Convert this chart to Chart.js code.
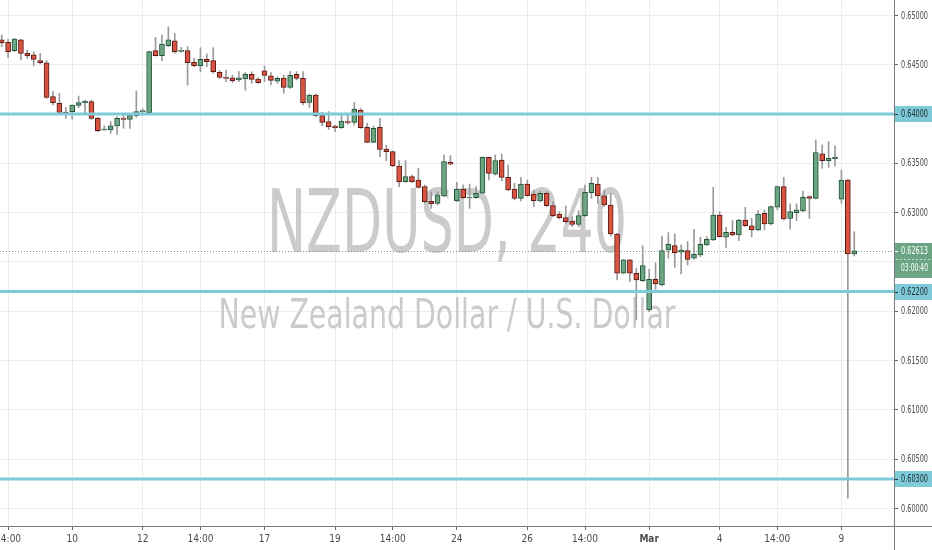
<!DOCTYPE html>
<html>
<head>
<meta charset="utf-8">
<script src="https://cdn.jsdelivr.net/npm/chart.js@4/dist/chart.umd.min.js"></script>
<style>
  html, body { margin: 0; padding: 0; background: #fff; }
  #wrap { width: 932px; height: 550px; }
</style>
</head>
<body>
<div id="wrap"><canvas id="priceChart" width="932" height="550"></canvas></div>
<script>
// NZDUSD 4h candles
const opens = [
  0.64752, 0.64728, 0.64643, 0.64752, 0.64616, 0.64600, 0.64542, 0.64521, 0.64177, 0.64109,
  0.64021, 0.64025, 0.64089, 0.64116, 0.64126, 0.63957, 0.63839, 0.63839, 0.63880, 0.63960,
  0.63947, 0.63984, 0.64025, 0.64015, 0.64643, 0.64592, 0.64694, 0.64744, 0.64636, 0.64643,
  0.64525, 0.64491, 0.64555, 0.64542, 0.64424, 0.64373, 0.64369, 0.64346, 0.64356, 0.64403,
  0.64356, 0.64440, 0.64389, 0.64335, 0.64366, 0.64271, 0.64403, 0.64363, 0.64119, 0.64194,
  0.63984, 0.63923, 0.63879, 0.63862, 0.63923, 0.63916, 0.64041, 0.63866, 0.63714, 0.63866,
  0.63646, 0.63619, 0.63474, 0.63315, 0.63366, 0.63332, 0.63264, 0.63115, 0.63095, 0.63170,
  0.63511, 0.63119, 0.63237, 0.63149, 0.63153, 0.63197, 0.63561, 0.63392, 0.63534, 0.63359,
  0.63240, 0.63146, 0.63291, 0.63190, 0.63119, 0.63197, 0.63071, 0.62987, 0.62950, 0.62916,
  0.62882, 0.62970, 0.63203, 0.63291, 0.63170, 0.63078, 0.62784, 0.62386, 0.62521, 0.62386,
  0.62311, 0.62014, 0.62325, 0.62267, 0.62622, 0.62666, 0.62599, 0.62615, 0.62538, 0.62572,
  0.62673, 0.62724, 0.62977, 0.62751, 0.62801, 0.62774, 0.62926, 0.62866, 0.62825, 0.62994,
  0.62886, 0.63055, 0.63264, 0.62943, 0.63001, 0.63018, 0.63163, 0.63146, 0.63596, 0.63528,
  0.63548, 0.63136, 0.63332, 0.62582
];
const highs = [
  0.64802, 0.64758, 0.64768, 0.64758, 0.64650, 0.64633, 0.64616, 0.64542, 0.64228, 0.64211,
  0.64068, 0.64092, 0.64183, 0.64143, 0.64143, 0.63967, 0.63880, 0.63923, 0.63974, 0.63991,
  0.64008, 0.64234, 0.64055, 0.64640, 0.64778, 0.64802, 0.64886, 0.64819, 0.64677, 0.64684,
  0.64565, 0.64673, 0.64610, 0.64673, 0.64440, 0.64447, 0.64396, 0.64430, 0.64424, 0.64430,
  0.64369, 0.64488, 0.64420, 0.64380, 0.64396, 0.64430, 0.64430, 0.64430, 0.64204, 0.64204,
  0.64018, 0.64025, 0.63889, 0.64008, 0.64008, 0.64119, 0.64058, 0.63906, 0.63879, 0.63957,
  0.63686, 0.63625, 0.63528, 0.63528, 0.63382, 0.63450, 0.63281, 0.63213, 0.63213, 0.63585,
  0.63578, 0.63308, 0.63281, 0.63291, 0.63264, 0.63565, 0.63565, 0.63585, 0.63595, 0.63484,
  0.63298, 0.63359, 0.63332, 0.63223, 0.63223, 0.63213, 0.63112, 0.63011, 0.63068, 0.62960,
  0.63021, 0.63281, 0.63359, 0.63359, 0.63231, 0.63197, 0.62791, 0.62525, 0.62525, 0.62436,
  0.62663, 0.62426, 0.62494, 0.62764, 0.62798, 0.62784, 0.62673, 0.62707, 0.62832, 0.62751,
  0.62757, 0.63258, 0.63011, 0.62852, 0.62920, 0.62933, 0.63055, 0.62943, 0.63021, 0.63028,
  0.63068, 0.63271, 0.63359, 0.63089, 0.63089, 0.63220, 0.63170, 0.63738, 0.63687, 0.63721,
  0.63677, 0.63433, 0.63340, 0.62808
];
const lows = [
  0.64684, 0.64576, 0.64633, 0.64549, 0.64566, 0.64488, 0.64508, 0.64160, 0.64092, 0.64008,
  0.63957, 0.63947, 0.64065, 0.64008, 0.63947, 0.63822, 0.63832, 0.63805, 0.63795, 0.63856,
  0.63856, 0.63967, 0.63991, 0.64008, 0.64589, 0.64542, 0.64684, 0.64616, 0.64626, 0.64295,
  0.64480, 0.64430, 0.64480, 0.64413, 0.64363, 0.64329, 0.64319, 0.64329, 0.64244, 0.64312,
  0.64312, 0.64329, 0.64295, 0.64312, 0.64211, 0.64261, 0.64346, 0.64092, 0.64068, 0.63974,
  0.63882, 0.63845, 0.63822, 0.63855, 0.63899, 0.63889, 0.63855, 0.63710, 0.63710, 0.63568,
  0.63528, 0.63467, 0.63264, 0.63308, 0.63308, 0.63250, 0.63095, 0.63044, 0.63078, 0.63163,
  0.63484, 0.63112, 0.63146, 0.63044, 0.63146, 0.63190, 0.63332, 0.63382, 0.63321, 0.63223,
  0.63129, 0.63119, 0.63169, 0.63061, 0.63112, 0.63061, 0.62960, 0.62936, 0.62892, 0.62858,
  0.62858, 0.62960, 0.63146, 0.63095, 0.63062, 0.62764, 0.62318, 0.62379, 0.62301, 0.61912,
  0.62301, 0.61997, 0.62223, 0.62257, 0.62538, 0.62446, 0.62379, 0.62470, 0.62527, 0.62555,
  0.62666, 0.62717, 0.62751, 0.62649, 0.62764, 0.62717, 0.62859, 0.62757, 0.62815, 0.62825,
  0.62876, 0.63028, 0.62926, 0.62832, 0.62920, 0.63011, 0.62943, 0.63139, 0.63450, 0.63460,
  0.63474, 0.63095, 0.60106, 0.62561
];
const closes = [
  0.64725, 0.64633, 0.64762, 0.64616, 0.64589, 0.64555, 0.64521, 0.64170, 0.64116, 0.64018,
  0.63997, 0.64092, 0.64116, 0.64130, 0.63957, 0.63832, 0.63849, 0.63880, 0.63957, 0.63947,
  0.63984, 0.64025, 0.64035, 0.64633, 0.64592, 0.64711, 0.64752, 0.64633, 0.64646, 0.64521,
  0.64491, 0.64555, 0.64532, 0.64430, 0.64373, 0.64363, 0.64339, 0.64369, 0.64403, 0.64352,
  0.64319, 0.64393, 0.64342, 0.64363, 0.64271, 0.64393, 0.64363, 0.64116, 0.64194, 0.63984,
  0.63916, 0.63872, 0.63862, 0.63930, 0.63910, 0.64052, 0.63862, 0.63714, 0.63855, 0.63643,
  0.63619, 0.63474, 0.63315, 0.63366, 0.63315, 0.63257, 0.63112, 0.63092, 0.63180, 0.63518,
  0.63491, 0.63237, 0.63153, 0.63159, 0.63197, 0.63561, 0.63399, 0.63528, 0.63359, 0.63230,
  0.63146, 0.63291, 0.63173, 0.63122, 0.63197, 0.63071, 0.62970, 0.62950, 0.62910, 0.62882,
  0.62970, 0.63207, 0.63298, 0.63169, 0.63078, 0.62784, 0.62386, 0.62521, 0.62386, 0.62318,
  0.62463, 0.62325, 0.62277, 0.62615, 0.62680, 0.62595, 0.62622, 0.62527, 0.62578, 0.62680,
  0.62730, 0.62977, 0.62757, 0.62801, 0.62774, 0.62926, 0.62869, 0.62825, 0.62987, 0.62886,
  0.63062, 0.63264, 0.62937, 0.63011, 0.63028, 0.63156, 0.63146, 0.63609, 0.63528, 0.63552,
  0.63562, 0.63332, 0.62582, 0.62613
];

// time axis: candle index of each label
const xTickIndex = [1, 11, 22, 31, 41, 52, 61, 71, 82, 91, 101, 112, 121, 131];
const xTickLabels = ['14:00', '10', '12', '14:00', '17', '19', '14:00', '24', '26', '14:00', 'Mar', '4', '14:00', '9'];
const yTicks = [0.600, 0.605, 0.610, 0.615, 0.620, 0.625, 0.630, 0.635, 0.640, 0.645, 0.650];

// drawn horizontal levels and the live price
const levels = [0.640, 0.622, 0.603];
const lastPrice = 0.62613;
const countdown = '03:00:40';
const symbolText = 'NZDUSD, 240';
const descText = 'New Zealand Dollar / U.S. Dollar';

const UP = '#6ba583', DOWN = '#d75442';
const UP_BORDER = '#225437', DOWN_BORDER = '#5b1a13';
const LEVEL = '#7ecad8';
const FONT = '"DejaVu Sans Condensed", "DejaVu Sans", sans-serif';
const LABEL_W = 27;   // price labels are squeezed into this width

let bodies = opens.map((o, i) => ({x: i, y: [o, closes[i]]}));
let wicks = highs.map((h, i) => ({x: i, y: [lows[i], h]}));
let isUp = opens.map((o, i) => closes[i] >= o);

const overlay = {
    id: 'overlay',
    beforeDatasetsDraw(chart) {
        const {ctx, chartArea: a, scales: {y}} = chart;
        const cx = (a.left + a.right) / 2;
        ctx.save();
        ctx.fillStyle = '#cbcbcb';
        ctx.textAlign = 'center';
        ctx.textBaseline = 'alphabetic';
        ctx.font = '88px ' + FONT;
        ctx.fillText(symbolText, cx, 252, 360);
        ctx.font = '41px ' + FONT;
        ctx.fillText(descText, cx, 328, 457);

        // dotted last price line
        let py = Math.round(y.getPixelForValue(lastPrice)) + 0.5;
        ctx.strokeStyle = UP;
        ctx.lineWidth = 1;
        ctx.setLineDash([1, 2]);
        ctx.beginPath();
        ctx.moveTo(a.left, py);
        ctx.lineTo(a.right, py);
        ctx.stroke();
        ctx.restore();
    },
    afterDatasetsDraw(chart) {
        const {ctx, chartArea: a, scales: {y}} = chart;
        ctx.save();
        ctx.strokeStyle = LEVEL;
        ctx.lineWidth = 3;
        levels.forEach(lv => {
            let py = y.getPixelForValue(lv);
            ctx.beginPath();
            ctx.moveTo(a.left, py);
            ctx.lineTo(a.right, py);
            ctx.stroke();
        });
        ctx.restore();
    },
    afterDraw(chart) {
        const {ctx, chartArea: a, scales: {y}, width, height} = chart;
        ctx.save();
        // axis lines
        ctx.strokeStyle = '#7b7b7b';
        ctx.lineWidth = 1;
        ctx.beginPath();
        ctx.moveTo(a.right + 0.5, 0);
        ctx.lineTo(a.right + 0.5, height);
        ctx.moveTo(0, a.bottom + 0.5);
        ctx.lineTo(width, a.bottom + 0.5);
        ctx.stroke();

        ctx.font = '10px ' + FONT;
        ctx.textAlign = 'left';
        ctx.textBaseline = 'middle';
        // price scale labels
        ctx.fillStyle = '#4c4c4c';
        yTicks.forEach(v => {
            ctx.fillText(v.toFixed(5), a.right + 7, y.getPixelForValue(v) + 0.5, LABEL_W);
        });
        // level labels on the price axis
        levels.forEach(lv => {
            let py = Math.round(y.getPixelForValue(lv));
            ctx.fillStyle = LEVEL;
            ctx.fillRect(a.right + 1, py - 8, width - a.right, 16);
            ctx.fillStyle = '#1d2a2e';
            ctx.fillRect(a.right + 1, py, 3, 1);
            ctx.fillText(lv.toFixed(5), a.right + 7, py + 0.5, LABEL_W);
        });
        // last price + countdown
        let lp = Math.round(y.getPixelForValue(lastPrice));
        ctx.fillStyle = UP;
        ctx.fillRect(a.right + 1, lp - 8, width - a.right, 35);
        ctx.fillStyle = '#ffffff';
        ctx.fillRect(a.right + 1, lp, 3, 1);
        ctx.fillText(lastPrice.toFixed(5), a.right + 7, lp + 0.5, LABEL_W);
        ctx.fillText(countdown, a.right + 7, lp + 17.5, LABEL_W);
        ctx.strokeStyle = 'rgba(255,255,255,0.6)';
        ctx.setLineDash([2, 2]);
        ctx.beginPath();
        ctx.moveTo(a.right + 2, lp + 8.5);
        ctx.lineTo(width, lp + 8.5);
        ctx.stroke();
        ctx.restore();
    }
};

new Chart(document.getElementById('priceChart'), {
    type: 'bar',
    data: {
        datasets: [
            {
                label: 'body',
                data: bodies,
                backgroundColor: isUp.map(u => u ? UP : DOWN),
                borderColor: isUp.map(u => u ? UP_BORDER : DOWN_BORDER),
                borderWidth: 1,
                borderSkipped: false,
                barThickness: 5,
                minBarLength: 1,
                grouped: false,
                order: 1
            },
            {
                label: 'wick',
                data: wicks,
                backgroundColor: '#9a9a9a',
                borderWidth: 0,
                barThickness: 1,
                grouped: false,
                order: 2
            }
        ]
    },
    options: {
        responsive: false,
        animation: false,
        layout: {padding: 0},
        plugins: {legend: {display: false}, tooltip: {enabled: false}},
        scales: {
            x: {
                type: 'linear',
                min: -0.265,
                max: 139.2,
                offset: false,
                border: {display: false},
                grid: {offset: false, color: '#ececec', tickColor: '#666', tickLength: 4},
                afterBuildTicks: s => { s.ticks = xTickIndex.map(v => ({value: v})); },
                afterFit: s => { s.height = 24; s.paddingLeft = 0; s.paddingRight = 0; },
                ticks: {
                    autoSkip: false,
                    maxRotation: 0,
                    padding: 3,
                    color: '#4c4c4c',
                    font: c => ({family: FONT, size: 10, weight: xTickLabels[c.index] === 'Mar' ? 'bold' : 'normal'}),
                    callback: (v, i) => xTickLabels[i]
                }
            },
            y: {
                position: 'right',
                min: 0.598225,
                max: 0.651572,
                border: {display: false},
                grid: {color: '#ececec', tickColor: '#666', tickLength: 4},
                afterBuildTicks: s => { s.ticks = yTicks.map(v => ({value: v})); },
                afterFit: s => { s.width = 38; s.paddingTop = 0; s.paddingBottom = 0; },
                ticks: {display: false}
            }
        }
    },
    plugins: [overlay]
});
</script>
</body>
</html>
